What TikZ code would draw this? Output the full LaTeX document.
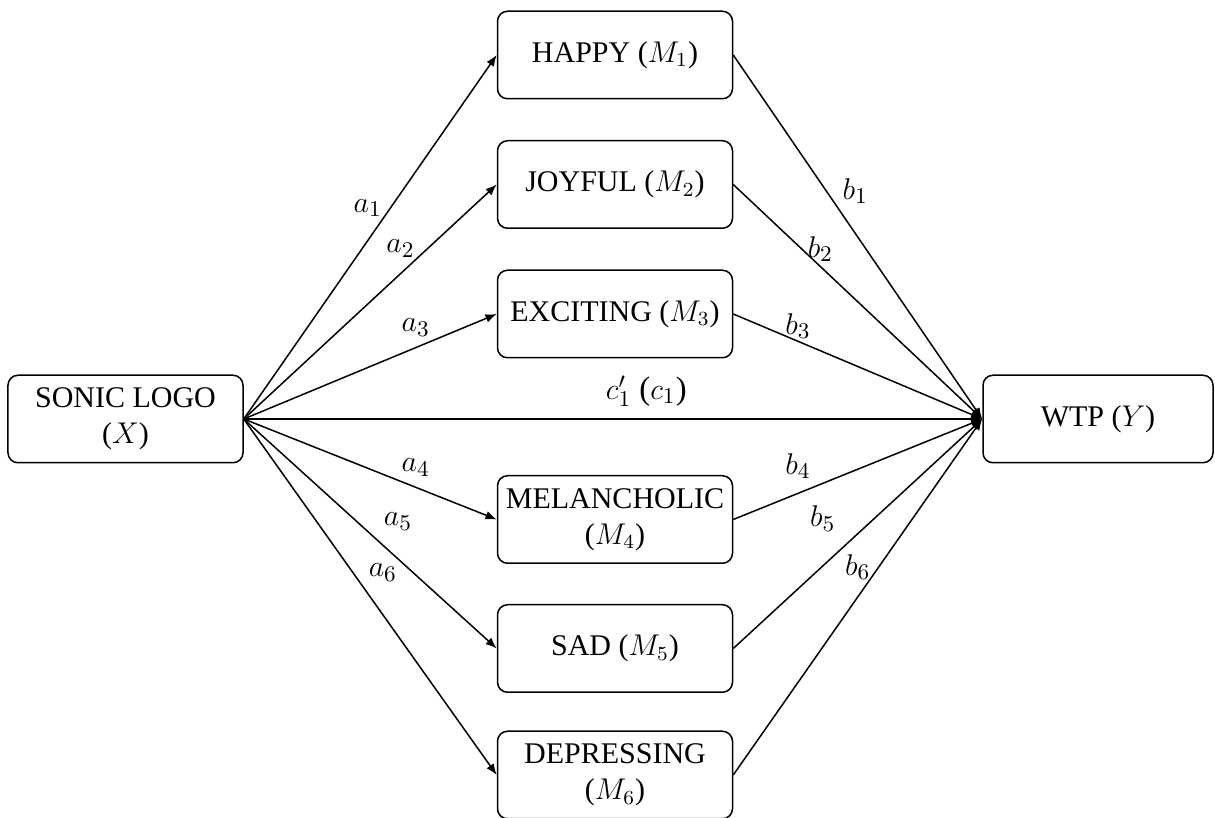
\documentclass[tikz,border=0pt]{standalone}
\usepackage{fontspec}
\setmainfont{Liberation Serif}
\usetikzlibrary{arrows.meta, positioning}
\tikzset{
  every picture/.style={x=0.4pt, y=-0.4pt, line width=0.6pt},
  box/.style={draw=black, rounded corners=4pt, align=center, minimum width=94pt, minimum height=35pt, inner sep=2pt, font=\fontsize{12}{14.5}\selectfont},
  arrow/.style={-{Latex[length=4.5pt, width=3.5pt]}, draw=black},
  lab/.style={font=\fontsize{13}{15}\selectfont, inner sep=0pt},
}

\begin{document}
\begin{tikzpicture}
  \useasboundingbox (0,0) rectangle (1215,818);
  % input and outcome
  \node[box] (x) at (125.5,419) {SONIC LOGO\\($X$)};
  \node[box, minimum width=92pt] (y) at (1098,419) {WTP ($Y$)};
  % mediators
  \node[box] (m1) at (615,55) {HAPPY ($M_1$)};
  \node[box] (m2) at (615,184.5) {JOYFUL ($M_2$)};
  \node[box] (m3) at (615,314) {EXCITING ($M_3$)};
  \node[box] (m4) at (615,519.5) {MELANCHOLIC\\($M_4$)};
  \node[box] (m5) at (615,648.5) {SAD ($M_5$)};
  \node[box] (m6) at (615,775) {DEPRESSING\\($M_6$)};
  % a paths
  \draw[arrow] (x.east) -- node[lab, pos=0.49, yshift=13pt] {$a_1$} (m1.west);
  \draw[arrow] (x.east) -- node[lab, pos=0.62, yshift=10pt] {$a_2$} (m2.west);
  \draw[arrow] (x.east) -- node[lab, pos=0.68, yshift=8pt] {$a_3$} (m3.west);
  \draw[arrow] (x.east) -- node[lab, pos=0.68, yshift=8pt] {$a_4$} (m4.west);
  \draw[arrow] (x.east) -- node[lab, pos=0.61, yshift=15pt] {$a_5$} (m5.west);
  \draw[arrow] (x.east) -- node[lab, pos=0.55, yshift=17pt] {$a_6$} (m6.west);
  % b paths
  \draw[arrow] (m1.east) -- node[lab, pos=0.49, yshift=17pt] {$b_1$} (y.west);
  \draw[arrow] (m2.east) -- node[lab, pos=0.35, yshift=7pt] {$b_2$} (y.west);
  \draw[arrow] (m3.east) -- node[lab, pos=0.26, yshift=6pt] {$b_3$} (y.west);
  \draw[arrow] (m4.east) -- node[lab, pos=0.26, yshift=11pt] {$b_4$} (y.west);
  \draw[arrow] (m5.east) -- node[lab, pos=0.36, yshift=19pt] {$b_5$} (y.west);
  \draw[arrow] (m6.east) -- node[lab, pos=0.5, yshift=12pt] {$b_6$} (y.west);
  % direct path
  \draw[arrow] (x.east) -- node[lab, pos=0.545, yshift=11pt] {$c_1'$ ($c_1$)} (y.west);
\end{tikzpicture}
\end{document}
